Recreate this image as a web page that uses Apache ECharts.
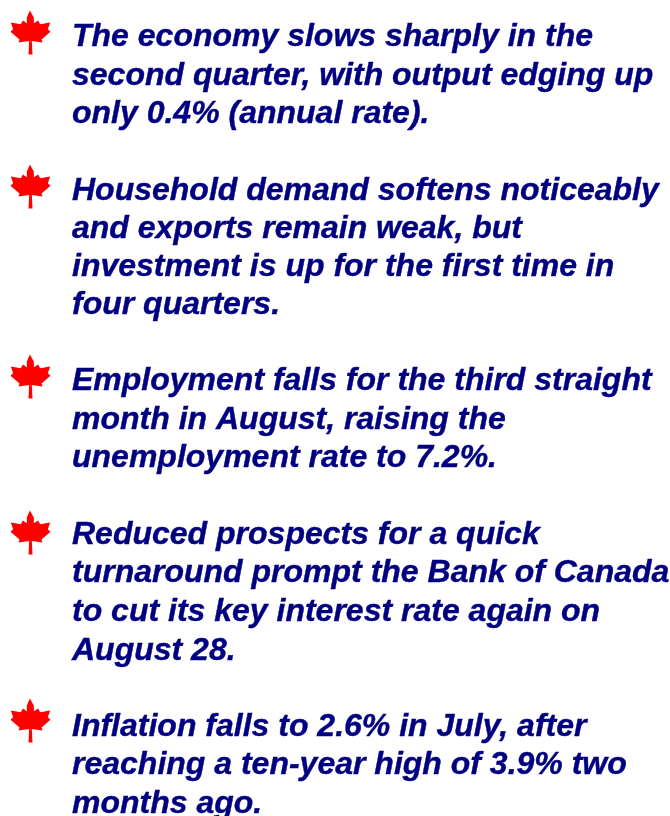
<!DOCTYPE html>
<html>
<head>
<meta charset="utf-8">
<style>html,body{margin:0;padding:0;background:#fff}#c{width:670px;height:816px}</style>
<script src="https://cdn.jsdelivr.net/npm/echarts@6/dist/echarts.min.js"></script>
</head>
<body>
<div id="c"></div>
<script>
const lines = [
  "The economy slows sharply in the",
  "second quarter, with output edging up",
  "only 0.4% (annual rate).",
  "Household demand softens noticeably",
  "and exports remain weak, but",
  "investment is up for the first time in",
  "four quarters.",
  "Employment falls for the third straight",
  "month in August, raising the",
  "unemployment rate to 7.2%.",
  "Reduced prospects for a quick",
  "turnaround prompt the Bank of Canada",
  "to cut its key interest rate again on",
  "August 28.",
  "Inflation falls to 2.6% in July, after",
  "reaching a ten-year high of 3.9% two",
  "months ago."
];
const lineY = [37,76,114,191,229,267,305,381,420,458,535,573,612,651,727,765,804];
const bulletY = [32.5,186.5,376.5,532.5,720.5];
const leaf = "path://M66,9 L78,30 L78,47 L91,39 L97,50 L127,45 L120,65 L128,72 L101,95 L104,104 L72,100 L74,140 L62,140 L64,100 L32,104 L35,95 L8,72 L16,65 L9,45 L39,50 L45,39 L57,47 L57,30 Z";
const chart = echarts.init(document.getElementById('c'), null, {renderer:'canvas'});
chart.setOption({
  animation:false,
  backgroundColor:'#ffffff',
  grid:{left:0,right:0,top:0,bottom:0},
  xAxis:{type:'value',min:0,max:670,show:false},
  yAxis:{type:'value',min:0,max:816,inverse:true,show:false},
  series:[
    {type:'scatter',symbol:leaf,symbolSize:[40,44],itemStyle:{color:'#ff0000',opacity:1},
     data:bulletY.map(y=>[30.5,y]),silent:true},
    {type:'scatter',symbolSize:0,silent:true,itemStyle:{opacity:1},
     data:lines.map((t,i)=>({value:[72,lineY[i]],name:t})),
     label:{show:true,position:'right',distance:0,formatter:p=>p.name,opacity:1,
       fontFamily:'"Liberation Sans",Arial,sans-serif',fontStyle:'italic',fontWeight:'bold',
       fontSize:32,color:'#000080',textBorderColor:'#000080',textBorderWidth:0.4}}
  ]
});
</script>
</body>
</html>
